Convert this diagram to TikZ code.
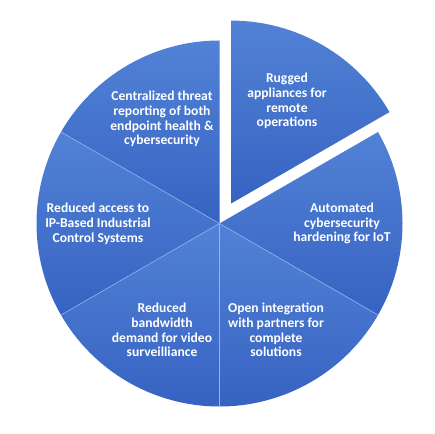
\documentclass[tikz,border=0pt]{standalone}
\usepackage{fontspec}
\setmainfont{Carlito}
\usetikzlibrary{positioning}

\definecolor{slicetop}{RGB}{82,130,214}
\definecolor{slicebot}{RGB}{54,99,194}
\definecolor{sliceline}{RGB}{150,178,232}

\tikzset{
  slice/.style={top color=slicetop, bottom color=slicebot, draw=none},
  seam/.style={draw=sliceline, line width=0.6pt},
  pielabel/.style={text=white, font=\bfseries\fontsize{13.6}{14.8}\selectfont, align=center, inner sep=0pt}
}

\begin{document}
\begin{tikzpicture}[x=1pt, y=1pt]
  % page frame, pie centred at the origin
  \useasboundingbox[fill=white] (-219.5,-209.5) rectangle (215.5,223.5);
  \def\pieR{183pt}

  % slices that stay in place
  \foreach \s in {-30,-90,-150,150,90}
    \path[slice] (0,0) -- (\s:\pieR) arc[start angle=\s, end angle=\s+60, radius=\pieR] -- cycle;

  % pulled-out slice
  \path[slice, shift={(60:23pt)}] (0,0) -- (30:\pieR) arc[start angle=30, end angle=90, radius=\pieR] -- cycle;

  % seams between slices
  \coordinate (ctr) at (0,0);
  \foreach \s in {-30,-90,-150,150}
    \draw[seam] (ctr) -- (\s:\pieR);

  % labels
  \node[pielabel] (rugged) at (67.5,122.5) {Rugged\\appliances for\\remote\\operations};
  \node[pielabel] (central) at (-57.5,104.5) {Centralized threat\\reporting of both\\endpoint health \&\\cybersecurity};
  \node[pielabel] (access) at (-121.5,0) {Reduced access to\\IP-Based Industrial\\Control Systems};
  \node[pielabel] (harden) at (122.5,0) {Automated\\cybersecurity\\hardening for IoT};
  \node[pielabel] (bandwidth) at (-57.5,-106.5) {Reduced\\bandwidth\\demand for video\\surveilliance};
  \node[pielabel] (open) at (56.5,-106.5) {Open integration\\with partners for\\complete\\solutions};
\end{tikzpicture}
\end{document}
